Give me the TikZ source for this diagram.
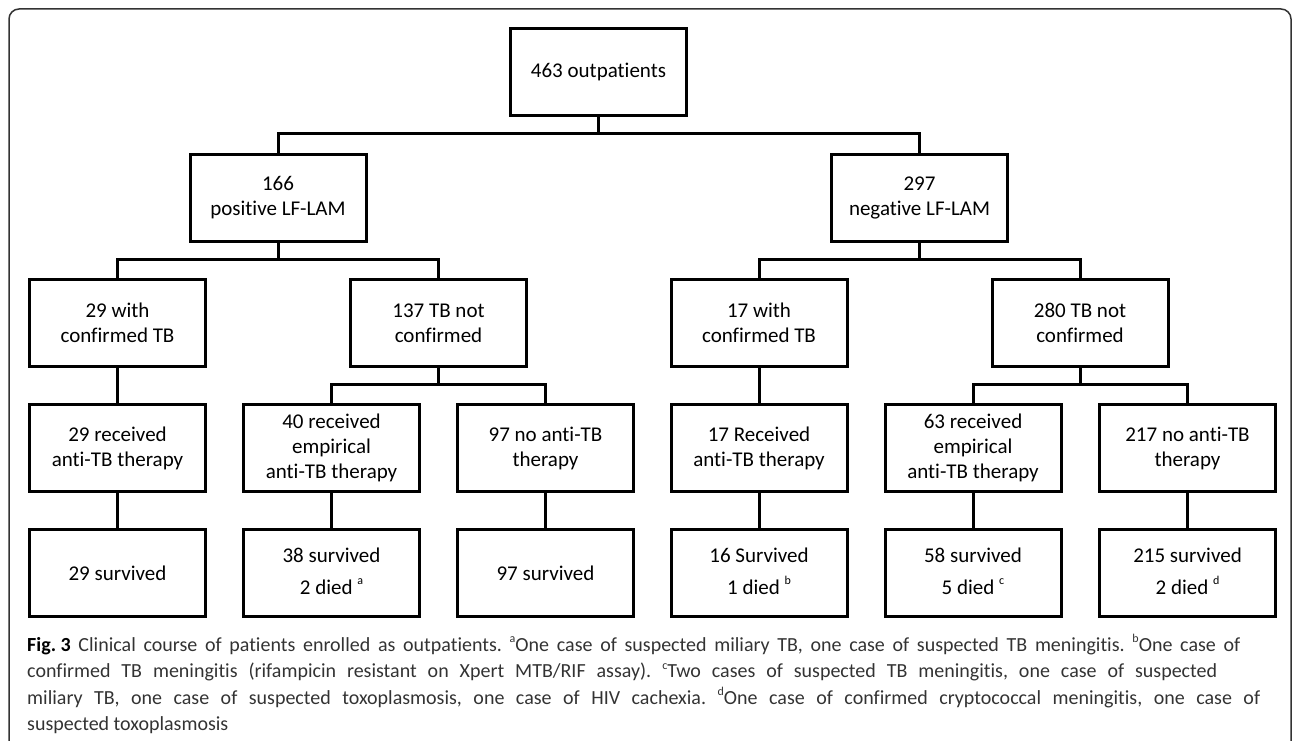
\documentclass[tikz,border=0pt]{standalone}
\usepackage{fontspec}
\setmainfont{Carlito}[Ligatures={NoCommon}]
\definecolor{captxt}{HTML}{333333}
\definecolor{framec}{HTML}{333333}
\newcommand\boxfont{\fontsize{21}{25}\selectfont}
\newcommand\capfont{\fontsize{20}{26}\selectfont\frenchspacing}
\newcommand\boxsup[1]{\raisebox{0.9ex}{\fontsize{12}{12}\selectfont #1}}
\newcommand\capsup[1]{\raisebox{0.85ex}{\fontsize{12}{12}\selectfont #1}}
\tikzset{
  box/.style={draw, line width=3pt, minimum width=176pt, minimum height=87pt,
    inner sep=0pt, align=center, font=\boxfont},
  conn/.style={line width=3pt},
  framestyle/.style={draw=framec, line width=1.5pt, rounded corners=10pt},
  capline/.style={anchor=base west, inner sep=0pt, font=\capfont, text=captxt},
}
\begin{document}
\begin{tikzpicture}[x=1pt, y=-1pt]
\useasboundingbox (0,0) rectangle (1295,741);
\draw[framestyle] (9,760) -- (9,9) -- (1291,9) -- (1291,760);

% level 0
\node[box] (n463) at (598.5,72) {463 outpatients};
% level 1
\node[box] (p166) at (278,197.5) {166\\positive LF-LAM};
\node[box] (n297) at (919.5,197.5) {297\\negative LF-LAM};
% level 2
\node[box] (c29) at (117.5,323) {29 with\\confirmed TB};
\node[box] (nc137) at (438.5,323) {137 TB not\\confirmed};
\node[box] (c17) at (759,323) {17 with\\confirmed TB};
\node[box] (nc280) at (1080,323) {280 TB not\\confirmed};
% level 3
\node[box] (r29) at (117.5,448) {29 received\\anti-TB therapy};
\node[box] (e40) at (331.5,448) {40 received\\empirical\\anti-TB therapy};
\node[box] (no97) at (545.5,448) {97 no anti-TB\\therapy};
\node[box] (r17) at (759,448) {17 Received\\anti-TB therapy};
\node[box] (e63) at (973,448) {63 received\\empirical\\anti-TB therapy};
\node[box] (no217) at (1187.5,448) {217 no anti-TB\\therapy};
% level 4
\node[box] (s29) at (117.5,573) {29 survived};
\node[box] (s38) at (331.5,573) {\begin{tabular}{@{}c@{}}38 survived\\[7pt]2 died \boxsup{a}\end{tabular}};
\node[box] (s97) at (545.5,573) {97 survived};
\node[box] (s16) at (759,573) {\begin{tabular}{@{}c@{}}16 Survived\\[7pt]1 died \boxsup{b}\end{tabular}};
\node[box] (s58) at (973,573) {\begin{tabular}{@{}c@{}}58 survived\\[7pt]5 died \boxsup{c}\end{tabular}};
\node[box] (s215) at (1187.5,573) {\begin{tabular}{@{}c@{}}215 survived\\[7pt]2 died \boxsup{d}\end{tabular}};

% connectors
\draw[conn] (n463.south) -- ++(0,17) -| (p166.north);
\draw[conn] (n463.south) -- ++(0,17) -| (n297.north);
\draw[conn] (p166.south) -- ++(0,17) -| (c29.north);
\draw[conn] (p166.south) -- ++(0,17) -| (nc137.north);
\draw[conn] (n297.south) -- ++(0,17) -| (c17.north);
\draw[conn] (n297.south) -- ++(0,17) -| (nc280.north);
\draw[conn] (c29.south) -- (r29.north);
\draw[conn] (nc137.south) -- ++(0,16) -| (e40.north);
\draw[conn] (nc137.south) -- ++(0,16) -| (no97.north);
\draw[conn] (c17.south) -- (r17.north);
\draw[conn] (nc280.south) -- ++(0,16) -| (e63.north);
\draw[conn] (nc280.south) -- ++(0,16) -| (no217.north);
\draw[conn] (r29.south) -- (s29.north);
\draw[conn] (e40.south) -- (s38.north);
\draw[conn] (no97.south) -- (s97.north);
\draw[conn] (r17.south) -- (s16.north);
\draw[conn] (e63.south) -- (s58.north);
\draw[conn] (no217.south) -- (s215.north);

% caption
\node[capline] (cap1) at (27,651) {\makebox[1213pt][s]{\mbox{\textcolor{black}{\textbf{Fig. 3}}} Clinical course of patients enrolled as outpatients. \capsup{a}One case of suspected miliary TB, one case of suspected TB meningitis. \capsup{b}One case of}};
\node[capline] (cap2) at (27,677.5) {\makebox[1190pt][s]{confirmed TB meningitis (rifampicin resistant on Xpert MTB/RIF assay). \capsup{c}Two cases of suspected TB meningitis, one case of suspected}};
\node[capline] (cap3) at (27,704) {\makebox[1233pt][s]{miliary TB, one case of suspected toxoplasmosis, one case of HIV cachexia. \capsup{d}One case of confirmed cryptococcal meningitis, one case of}};
\node[capline] (cap4) at (27,730.5) {suspected toxoplasmosis};
\end{tikzpicture}
\end{document}
